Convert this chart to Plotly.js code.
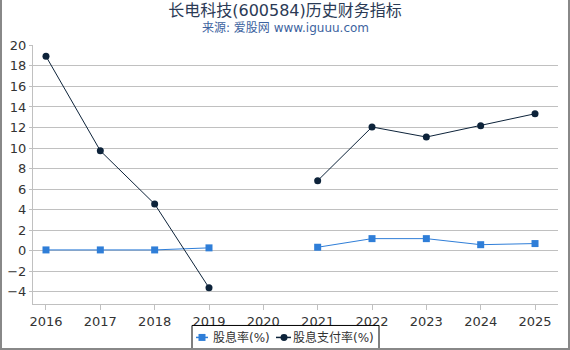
<!DOCTYPE html>
<html><head><meta charset="utf-8">
<script src="https://cdn.plot.ly/plotly-3.0.1.min.js"></script>
<style>
html,body{margin:0;padding:0;background:#fff;}
#wrap{position:relative;width:570px;height:350px;box-sizing:border-box;border-left:2px solid #888;border-right:2px solid #888;border-bottom:2px solid #888;overflow:hidden;}
#chart{position:absolute;left:-2px;top:0;width:570px;height:350px;}
</style></head>
<body><div id="wrap"><div id="chart"></div></div>
<script>
const years = ['2016','2017','2018','2019','2020','2021','2022','2023','2024','2025'];
const dividendYield = [0.07, 0.07, 0.07, 0.27, null, 0.33, 1.17, 1.17, 0.58, 0.69];
const payoutRatio = [18.94, 9.73, 4.54, -3.62, null, 6.82, 12.05, 11.07, 12.17, 13.34];
const seriesNames = ['股息率(%)', '股息支付率(%)'];
const seriesColors = ['#2f7ed8', '#0d233a'];
const titleText = '长电科技(600584)历史财务指标';
const subtitleText = '来源: 爱股网 www.iguuu.com';
const yTicks = [-4,-2,0,2,4,6,8,10,12,14,16,18,20];

const font = 'DejaVu Sans, Noto Sans CJK SC, sans-serif';
const xNum = years.map(Number);
const L = 33, R = 558, plotTop = 45, plotBottom = 304.5, plotW = R - L, plotH = plotBottom - plotTop;
const px = v => (v - L) / plotW;
const py = v => (plotBottom - v) / plotH;

const traces = [
  {x: xNum, y: dividendYield, name: seriesNames[0], type: 'scatter', mode: 'lines+markers',
   connectgaps: false, line: {color: seriesColors[0], width: 1}, marker: {symbol: 'square', size: 7, color: seriesColors[0]}},
  {x: xNum, y: payoutRatio, name: seriesNames[1], type: 'scatter', mode: 'lines+markers',
   connectgaps: false, line: {color: seriesColors[1], width: 1}, marker: {symbol: 'circle', size: 7, color: seriesColors[1]}}
];

// custom legend (box, symbols, labels)
const legY = 338;
const shapes = [
  {type: 'rect', xref: 'paper', yref: 'paper', x0: px(192), x1: px(379), y0: py(326), y1: py(352),
   line: {color: '#000', width: 1}, fillcolor: '#fff', layer: 'above'},
  {type: 'line', xref: 'paper', yref: 'paper', x0: px(196), x1: px(208), y0: py(legY), y1: py(legY),
   line: {color: seriesColors[0], width: 1.5}, layer: 'above'},
  {type: 'rect', xref: 'paper', yref: 'paper', x0: px(198.5), x1: px(205.5), y0: py(legY - 3.5), y1: py(legY + 3.5),
   line: {width: 0}, fillcolor: seriesColors[0], layer: 'above'},
  {type: 'line', xref: 'paper', yref: 'paper', x0: px(276), x1: px(291), y0: py(legY), y1: py(legY),
   line: {color: seriesColors[1], width: 1.5}, layer: 'above'},
  {type: 'circle', xref: 'paper', yref: 'paper', x0: px(280.5), x1: px(287.5), y0: py(legY - 3.5), y1: py(legY + 3.5),
   line: {width: 0}, fillcolor: seriesColors[1], layer: 'above'}
];

const layout = {
  width: 570, height: 350,
  margin: {l: L, r: 570 - R, t: plotTop, b: 350 - plotBottom, autoexpand: false},
  paper_bgcolor: '#fff', plot_bgcolor: '#fff',
  font: {family: font, size: 13, color: '#333'},
  title: {text: titleText, x: 0.5, xanchor: 'center', y: 1 - 10/350, yanchor: 'middle', yref: 'container',
          font: {family: font, size: 16, color: '#2b3a55'}},
  annotations: [
    {text: subtitleText, xref: 'paper', yref: 'paper', x: px(285), y: py(28), xanchor: 'center', yanchor: 'middle',
     showarrow: false, font: {family: font, size: 12, color: '#3d63a0'}},
    {text: seriesNames[0], xref: 'paper', yref: 'paper', x: px(211), y: py(legY), xanchor: 'left', yanchor: 'middle',
     showarrow: false, font: {family: font, size: 12, color: '#333'}},
    {text: seriesNames[1], xref: 'paper', yref: 'paper', x: px(291), y: py(legY), xanchor: 'left', yanchor: 'middle',
     showarrow: false, font: {family: font, size: 12, color: '#333'}}
  ],
  shapes: shapes,
  xaxis: {
    range: [2015.761, 2025.423], tickvals: xNum, ticktext: years,
    showgrid: false, zeroline: false, showline: true, linecolor: '#c0c0c0', linewidth: 1,
    ticks: 'outside', ticklen: 5, tickcolor: '#c0c0c0', tickfont: {family: font, size: 13, color: '#333'}
  },
  yaxis: {
    range: [-5.2, 20.04], tickvals: yTicks, showgrid: true, gridcolor: '#c0c0c0', gridwidth: 1,
    zeroline: false, showline: true, linecolor: '#c0c0c0', linewidth: 1,
    ticks: 'outside', ticklen: 3, tickcolor: '#c0c0c0', tickfont: {family: font, size: 13, color: '#333'}
  },
  showlegend: false
};
Plotly.newPlot('chart', traces, layout, {displayModeBar: false, staticPlot: true});
</script></body></html>
